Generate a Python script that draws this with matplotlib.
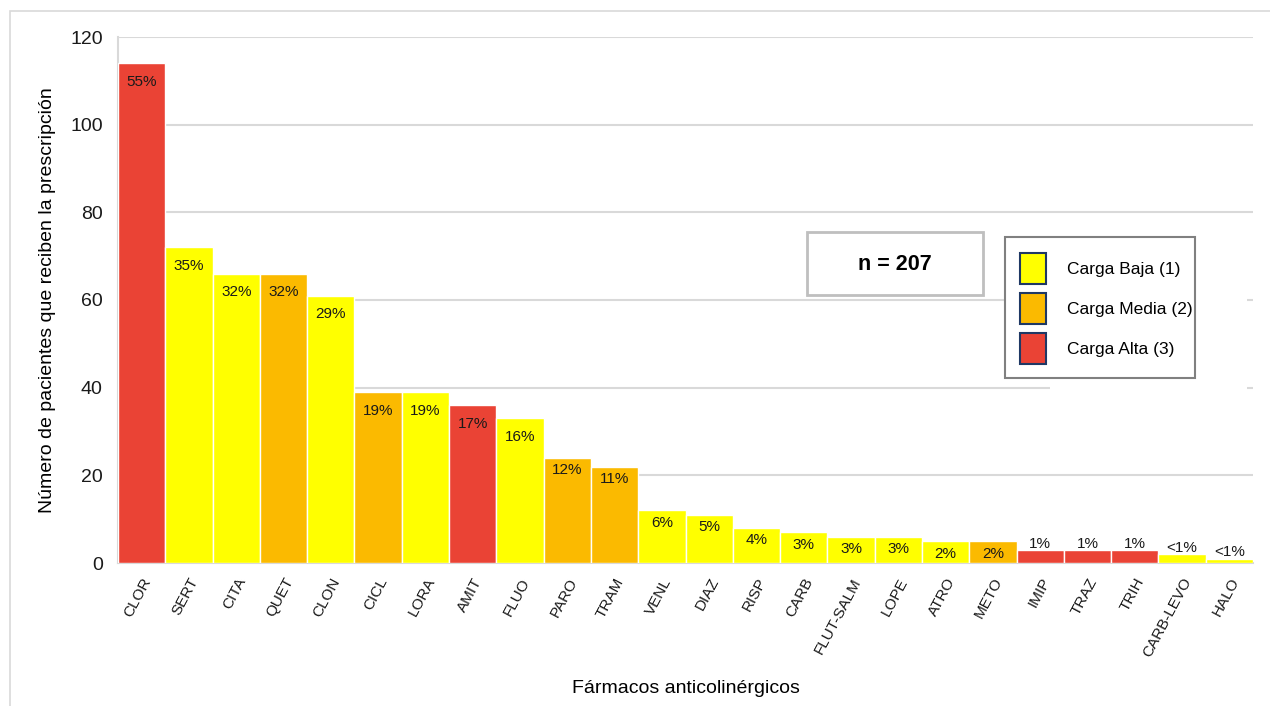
import matplotlib
matplotlib.use("Agg")
import matplotlib.pyplot as plt
from matplotlib.patches import Patch, Rectangle

plt.rcParams['font.family'] = ['Liberation Sans', 'DejaVu Sans']

# Drug codes, patients receiving each prescription and anticholinergic load
drugs = ["CLOR", "SERT", "CITA", "QUET", "CLON", "CICL", "LORA", "AMIT", "FLUO",
         "PARO", "TRAM", "VENL", "DIAZ", "RISP", "CARB", "FLUT-SALM", "LOPE",
         "ATRO", "METO", "IMIP", "TRAZ", "TRIH", "CARB-LEVO", "HALO"]
patients = [114, 72, 66, 66, 61, 39, 39, 36, 33, 24, 22, 12, 11, 8, 7, 6, 6,
            5, 5, 3, 3, 3, 2, 1]
load = [3, 1, 1, 2, 1, 2, 1, 3, 1, 2, 2, 1, 1, 1, 1, 1, 1, 1, 2, 3, 3, 3, 1, 1]
n_total = 207

load_names = {1: "Carga Baja (1)", 2: "Carga Media (2)", 3: "Carga Alta (3)"}
load_colors = {1: "#FFFF00", 2: "#FBBA00", 3: "#EA4335"}

W, H = 1270, 706
fig = plt.figure(figsize=(W / 100, H / 100), dpi=100)
ax = fig.add_axes([118 / W, 1 - 563 / H, 1135 / W, 526 / H])

# light frame around the whole figure
fig.add_artist(Rectangle((10 / W, -0.05), 1.1, 1 - 11 / H + 0.05,
                         transform=fig.transFigure, fill=False,
                         edgecolor="#D9D9D9", linewidth=1.2))

x = range(len(drugs))
ax.bar(x, patients, width=1.0, color=[load_colors[c] for c in load],
       edgecolor="white", linewidth=1.0, zorder=3)

# percentage labels
for i, v in enumerate(patients):
    pct = 100 * v / n_total
    txt = "<1%" if pct < 1 else "%d%%" % round(pct)
    if v >= 30:
        dy = -13.5
    elif v >= 5:
        dy = -9
    else:
        dy = 4.5
    ax.annotate(txt, (i, v), xytext=(0, dy), textcoords="offset points",
                ha="center", va="center", fontsize=11, color="#1a1a1a", zorder=4)

ax.set_xlim(-0.5, len(drugs) - 0.5)
ax.set_ylim(0, 120)
ax.set_yticks(range(0, 121, 20))
ax.set_xticks(list(x))
ax.set_xticklabels(drugs, rotation=62, ha="right", rotation_mode="anchor",
                   fontsize=11, color="#1a1a1a")
ax.tick_params(axis="y", length=0, pad=11, labelsize=14, labelcolor="#1a1a1a")
ax.tick_params(axis="x", length=0, pad=9)

ax.grid(axis="y", color="#D9D9D9", linewidth=1.5, zorder=0)
ax.set_axisbelow(True)
for s in ["top", "right"]:
    ax.spines[s].set_visible(False)
for s in ["left", "bottom"]:
    ax.spines[s].set_color("#D9D9D9")
    ax.spines[s].set_linewidth(1.5)

ax.set_xlabel("Fármacos anticolinérgicos", fontsize=14, labelpad=15)
ax.set_ylabel("Número de pacientes que reciben la prescripción", fontsize=14,
              labelpad=10)

# white area behind the legend hides the gridlines
ax.add_patch(Rectangle((0.821, 0.3), 0.174, 0.3,
                       transform=ax.transAxes, facecolor="white",
                       edgecolor="none", zorder=1))

# sample size box
fig.add_artist(Rectangle((807 / W, 1 - 295 / H), 176 / W, 63 / H,
                         transform=fig.transFigure, facecolor="white",
                         edgecolor="#BFBFBF", linewidth=2))
fig.text(895 / W, 1 - 265 / H, "n = %d" % n_total, ha="center",
         va="center", fontsize=15.5, fontweight="bold")

# legend frame drawn separately so the padding can be uneven
fig.add_artist(Rectangle((1005 / W, 1 - 378 / H), 190 / W, 141 / H,
                         transform=fig.transFigure, facecolor="white",
                         edgecolor="#808080", linewidth=1.5))
handles = [Patch(facecolor=load_colors[k], edgecolor="#1F3864", linewidth=1.5,
                 label=load_names[k]) for k in (1, 2, 3)]
leg = fig.legend(handles=handles, loc="upper left",
                 bbox_to_anchor=(1020 / W, 1 - 253 / H),
                 bbox_transform=fig.transFigure, borderaxespad=0,
                 fontsize=12.5, handlelength=1.5, handleheight=2.37,
                 handletextpad=1.2, labelspacing=0.52, borderpad=0,
                 frameon=False)

fig.savefig("out.png", dpi=100)
